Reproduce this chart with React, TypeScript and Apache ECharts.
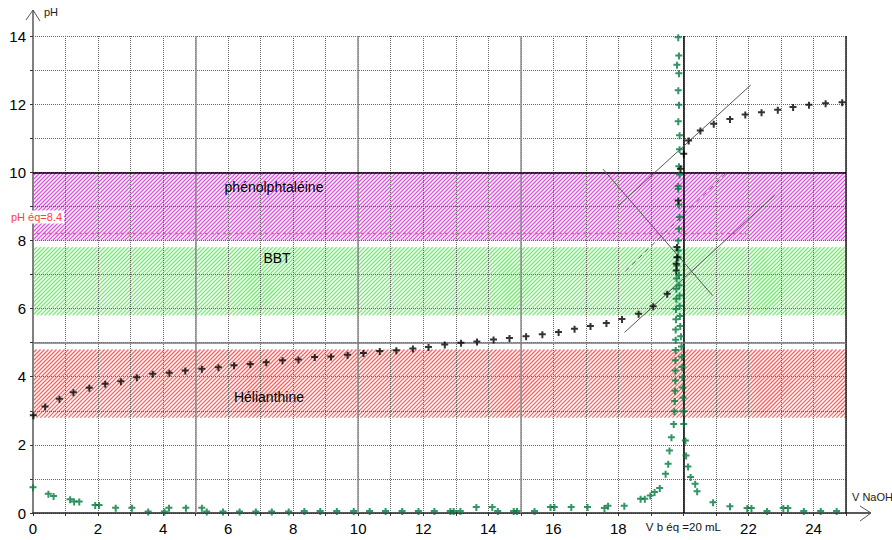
import React, { useEffect, useRef } from "react";
import * as echarts from "echarts";

// pH curve (black crosses)
const phVolume = [0.01, 0.37, 0.81, 1.24, 1.73, 2.22, 2.7, 3.19, 3.68, 4.19, 4.68, 5.19, 5.7, 6.18, 6.68, 7.17, 7.67,
  8.16, 8.66, 9.16, 9.67, 10.16, 10.66, 11.17, 11.68, 12.16, 12.66, 13.16, 13.65, 14.16, 14.65, 15.16, 15.66, 16.16, 16.65, 17.14,
  17.63, 18.11, 18.62, 19.07, 19.5, 19.78, 19.78, 19.8, 19.8, 19.84, 19.91, 20.01, 20.16, 20.52, 20.93, 21.43, 21.9, 22.4, 22.9, 23.37, 23.86, 24.37, 24.88];
const phValue = [2.88, 3.14, 3.37, 3.56, 3.69, 3.81, 3.88, 4.0, 4.1, 4.13, 4.2, 4.25, 4.29, 4.35, 4.39, 4.44, 4.5,
  4.52, 4.59, 4.61, 4.66, 4.71, 4.77, 4.79, 4.84, 4.89, 4.96, 5.01, 5.05, 5.11, 5.15, 5.2, 5.26, 5.33, 5.42, 5.5,
  5.59, 5.71, 5.86, 6.08, 6.45, 7.13, 7.33, 7.52, 7.82, 9.19, 10.12, 10.56, 10.95, 11.24, 11.44, 11.58, 11.71, 11.78, 11.85, 11.93, 12.0, 12.04, 12.07];

// derivative curve (green crosses)
const derivVolume = [0.0, 0.47, 0.63, 1.14, 1.26, 1.42, 1.91, 2.03, 2.54, 3.04, 3.54, 4.04, 4.18, 4.7, 5.19, 5.34, 5.84, 6.35, 6.85, 7.34, 7.86,
  8.34, 8.83, 9.34, 9.86, 10.35, 10.84, 11.35, 11.85, 12.34, 12.83, 12.93, 13.14, 13.63, 14.12, 14.29, 14.78, 14.88, 15.42, 15.91, 16.03, 16.55, 17.05,
  17.57, 17.68, 18.18, 18.68, 18.81, 18.98, 19.11, 19.27,
  19.45, 19.53, 19.57, 19.63, 19.7, 19.72, 19.73, 19.74, 19.75, 19.75, 19.75, 19.76, 19.76, 19.76, 19.77, 19.77, 19.78, 19.78, 19.79, 19.8,
  19.84, 19.84, 19.84, 19.86, 19.88, 19.86, 19.84, 19.84, 19.88, 19.86, 19.88, 19.88, 19.84, 19.86, 19.84, 19.86, 19.8, 19.86, 19.84,
  19.86, 19.87, 19.88, 19.88, 19.89, 19.9, 19.92, 19.94, 19.95, 19.96, 19.97, 19.98, 19.99, 20.0, 20.01, 20.06, 20.08, 20.14, 20.22, 20.36, 20.42,
  20.91, 21.43, 21.96, 22.09, 22.57, 23.07, 23.21, 23.7, 24.22, 24.71];
const derivValue = [0.77, 0.58, 0.51, 0.42, 0.35, 0.35, 0.25, 0.25, 0.17, 0.17, 0.06, 0.06, 0.17, 0.17, 0.17, 0.06, 0.06, 0.06, 0.06, 0.06, 0.06,
  0.07, 0.07, 0.07, 0.07, 0.07, 0.07, 0.07, 0.07, 0.07, 0.07, 0.07, 0.07, 0.19, 0.19, 0.07, 0.07, 0.07, 0.07, 0.19, 0.19, 0.19, 0.19,
  0.16, 0.23, 0.23, 0.43, 0.43, 0.53, 0.63, 0.75,
  1.17, 1.46, 1.85, 2.24, 2.63, 3.0, 3.3, 3.6, 3.9, 4.2, 4.5, 4.8, 5.1, 5.4, 5.7, 6.0, 6.3, 6.6, 6.9, 7.28,
  7.52, 7.72, 8.01, 8.36, 8.7, 9.06, 9.53, 9.61, 9.95, 10.19, 10.69, 11.1, 11.51, 12.0, 12.42, 12.92, 13.17, 13.44, 13.98,
  7.0, 6.7, 6.4, 6.1, 5.8, 5.5, 5.2, 4.9, 4.6, 4.3, 4.0, 3.7, 3.4, 3.0, 2.63, 2.14, 1.7, 1.38, 1.07, 0.87, 0.65,
  0.33, 0.21, 0.16, 0.16, 0.07, 0.16, 0.16, 0.07, 0.07, 0.07];

// construction lines (parallel tangents method)
const tangentUpper = [[18.0, 9.02], [22.07, 12.56]];
const tangentLower = [[18.19, 5.3], [22.81, 9.33]];
const tangentMiddle = [[18.22, 7.1], [21.31, 9.97]];
const perpendicular = [[17.53, 10.09], [20.9, 6.38]];
const phEqLine = [[-0.25, 8.2], [21.93, 8.2]];

// indicator zones
const bandNames = ["phénolphtaléine", "BBT", "Hélianthine"];
const bandLow = [8, 5.8, 2.8];
const bandHigh = [10, 7.8, 4.8];
const bandColors = ["#e650e8", "#72ea72", "#f06666"];

const xTickLabels = [0, 2, 4, 6, 8, 10, 12, 14, 16, 18, 20, 22, 24];
const yTickLabels = [0, 2, 4, 6, 8, 10, 12, 14];

const FONT = "Liberation Sans, Arial, sans-serif";
const CROSS = "path://M0,2h7v2h-7z M2.6,0h2v7h-2z";
const HATCH_STEP = 4;

function renderBand(params: any, api: any) {
  const lo = api.value(0);
  const hi = api.value(1);
  const idx = api.value(2);
  const cs = params.coordSys;
  const x0 = cs.x;
  const x1 = cs.x + cs.width;
  const y0 = api.coord([0, hi])[1];
  const y1 = api.coord([0, lo])[1];
  const color = bandColors[idx];
  const children: any[] = [];
  // diagonal "/" hatching: lines x + y = c
  for (let c = Math.floor(x0 + y0); c <= x1 + y1; c += HATCH_STEP) {
    const xa = Math.max(x0, c - y1);
    const xb = Math.min(x1, c - y0);
    if (xb <= xa) continue;
    children.push({
      type: "line",
      shape: { x1: xa, y1: c - xa, x2: xb, y2: c - xb },
      style: { stroke: color, lineWidth: 1.3 },
      silent: true,
    });
  }
  return { type: "group", children };
}

export default function App() {
  const ref = useRef<HTMLDivElement>(null);
  useEffect(() => {
    document.body.style.margin = "0";
    const chart = echarts.init(ref.current!, null, { renderer: "svg" });
    const L = 33, T = 36, R = 846, B = 513;
    const seg = (pts: number[][], color: string, type: any, width = 1, z = 4) => ({
      type: "line",
      data: pts,
      showSymbol: false,
      symbol: "none",
      silent: true,
      clip: false,
      z,
      lineStyle: { color, width, type },
    });
    const option: any = {
      animation: false,
      backgroundColor: "#ffffff",
      grid: { left: L, top: T, right: 892 - R, bottom: 540 - B, containLabel: false },
      xAxis: {
        type: "value",
        min: 0,
        max: 25,
        interval: 1,
        z: 2,
        axisLine: { show: true, onZero: false, lineStyle: { color: "#222", width: 1.5 } },
        axisTick: { show: true, length: 3, lineStyle: { color: "#333" } },
        splitLine: { show: true, lineStyle: { color: "#666", type: [1, 1], width: 1 } },
        axisLabel: {
          margin: 8,
          color: "#000",
          fontFamily: FONT,
          fontSize: 15,
          formatter: (v: number) => {
            if (!xTickLabels.includes(v)) return "";
            if (v === 20) return "{s|V b éq =20 mL}";
            return String(v);
          },
          rich: { s: { fontSize: 11.5, fontFamily: FONT, color: "#111" } },
        },
      },
      yAxis: {
        type: "value",
        min: 0,
        max: 14,
        interval: 1,
        z: 2,
        axisLine: { show: true, onZero: false, lineStyle: { color: "#808080", width: 2 } },
        axisTick: { show: true, length: 3, lineStyle: { color: "#333" } },
        splitLine: { show: true, lineStyle: { color: "#666", type: [1, 1], width: 1 } },
        axisLabel: {
          margin: 7,
          color: "#000",
          fontFamily: FONT,
          fontSize: 15,
          formatter: (v: number) => (yTickLabels.includes(v) ? String(v) : ""),
        },
      },
      series: [
        {
          type: "custom",
          renderItem: renderBand,
          data: bandLow.map((lo, i) => [lo, bandHigh[i], i]),
          encode: { y: [0, 1] },
          silent: true,
          z: 1,
        },
        {
          type: "line",
          data: [],
          silent: true,
          markLine: {
            silent: true,
            symbol: ["none", "none"],
            label: { show: false },
            z: 3,
            data: [
              { xAxis: 5, lineStyle: { color: "#8c8c8c", width: 1.5, type: "solid" } },
              { xAxis: 10, lineStyle: { color: "#8c8c8c", width: 1.5, type: "solid" } },
              { xAxis: 15, lineStyle: { color: "#8c8c8c", width: 1.5, type: "solid" } },
              { xAxis: 20, lineStyle: { color: "#000", width: 1.5, type: "solid" } },
              { xAxis: 25, lineStyle: { color: "#222", width: 1.5, type: "solid" } },
              { yAxis: 5, lineStyle: { color: "#777", width: 1.5, type: "solid" } },
              { yAxis: 10, lineStyle: { color: "#000", width: 1.5, type: "solid" } },
            ],
          },
        },
        seg(phEqLine, "#ff5a5a", [3, 3], 1.5, 4),
        seg(tangentUpper, "#555", "solid", 1, 4),
        seg(tangentLower, "#555", "solid", 1, 4),
        seg(tangentMiddle, "#666", [5, 4], 1, 4),
        seg(perpendicular, "#555", "solid", 1, 4),
        {
          type: "scatter",
          data: derivVolume.map((x, i) => [x, derivValue[i]]),
          symbol: CROSS,
          symbolSize: 7,
          symbolOffset: [0, 1],
          itemStyle: { color: "#007a3d" },
          silent: true,
          z: 5,
        },
        {
          type: "scatter",
          data: phVolume.map((x, i) => [x, phValue[i]]),
          symbol: CROSS,
          symbolSize: 7,
          symbolOffset: [0, 1],
          itemStyle: { color: "#000" },
          silent: true,
          z: 6,
        },
      ],
      graphic: [
        { type: "line", shape: { x1: L, y1: T, x2: L, y2: 10 }, style: { stroke: "#808080", lineWidth: 2 }, z: 10 },
        { type: "polyline", shape: { points: [[26, 20], [33, 10], [40, 21]] }, style: { stroke: "#555", lineWidth: 1, fill: null }, z: 10 },
        { type: "text", x: 44, y: 6, style: { text: "pH", font: `11px ${FONT}`, fill: "#222" }, z: 10 },
        { type: "line", shape: { x1: R, y1: B, x2: 871, y2: B }, style: { stroke: "#222", lineWidth: 1.5 }, z: 10 },
        { type: "polyline", shape: { points: [[860, 506], [871, 513], [860, 521]] }, style: { stroke: "#555", lineWidth: 1, fill: null }, z: 10 },
        { type: "text", x: 852, y: 491, style: { text: "V NaOH", font: `11px ${FONT}`, fill: "#222" }, z: 10 },
        { type: "text", x: 274, y: 187, style: { text: bandNames[0], font: `14px ${FONT}`, fill: "#000", align: "center", verticalAlign: "middle" }, z: 10 },
        { type: "text", x: 277, y: 258, style: { text: bandNames[1], font: `14px ${FONT}`, fill: "#000", align: "center", verticalAlign: "middle" }, z: 10 },
        { type: "text", x: 269, y: 397, style: { text: bandNames[2], font: `14px ${FONT}`, fill: "#000", align: "center", verticalAlign: "middle" }, z: 10 },
        {
          type: "text", x: 9, y: 217,
          style: { text: "pH éq=8.4", font: `11px ${FONT}`, fill: "#ff4040", verticalAlign: "middle", backgroundColor: "#fff", padding: [1, 2] },
          z: 10,
        },
      ],
    };
    chart.setOption(option);
    return () => chart.dispose();
  }, []);
  return <div ref={ref} style={{ width: 892, height: 540 }} />;
}
